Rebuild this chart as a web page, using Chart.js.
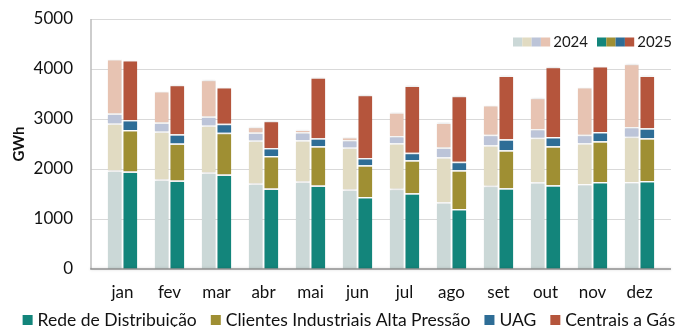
<!DOCTYPE html>
<html>
<head>
<meta charset="utf-8">
<script src="https://cdn.jsdelivr.net/npm/chart.js@4/dist/chart.umd.min.js"></script>
<style>
  html, body { margin: 0; padding: 0; background: #fff; }
  #wrap { width: 675px; height: 327px; }
</style>
</head>
<body>
<div id="wrap"><canvas id="myChart"></canvas></div>
<script>
const months = ['jan', 'fev', 'mar', 'abr', 'mai', 'jun', 'jul', 'ago', 'set', 'out', 'nov', 'dez']
const yTicks = [0, 1000, 2000, 3000, 4000, 5000]

// 2024
const rede2024 = [1970, 1790, 1930, 1710, 1750, 1590, 1605, 1335, 1665, 1735, 1700, 1740]
const industria2024 = [940, 960, 940, 860, 825, 840, 910, 900, 810, 890, 815, 905]
const uag2024 = [200, 180, 180, 160, 160, 150, 145, 195, 210, 175, 170, 195]
const centrais2024 = [1090, 630, 735, 115, 50, 60, 475, 500, 595, 625, 955, 1265]

// 2025
const rede2025 = [1950, 1770, 1890, 1610, 1670, 1440, 1515, 1200, 1615, 1675, 1740, 1760]
const industria2025 = [830, 740, 835, 650, 785, 635, 660, 775, 760, 780, 815, 855]
const uag2025 = [200, 185, 180, 160, 160, 145, 150, 170, 220, 185, 185, 200]
const centrais2025 = [1200, 990, 735, 545, 1220, 1265, 1345, 1320, 1275, 1405, 1320, 1055]

const names = ['Rede de Distribuição', 'Clientes Industriais Alta Pressão', 'UAG', 'Centrais a Gás']
const dark = ['#13857b', '#9f8f33', '#2e6d96', '#b5553c']
const light = ['#cbd8d7', '#e1dbc2', '#bcc4d8', '#e7c3b2']

const FONT = 'Lato, "Open Sans", sans-serif'

// the frame is a bit wider than the band the months occupy
const frameLeft = 91
const frameRight = 671

const mk = (label, data, color, stack) => ({
  label: label,
  data: data,
  backgroundColor: color,
  borderColor: '#ffffff',
  borderWidth: { top: 1.5, left: 0, right: 0, bottom: 0 },
  borderSkipped: false,
  stack: stack,
  categoryPercentage: 0.664,
  barPercentage: 0.897
})

const datasets = [
  mk(names[0], rede2024, light[0], 'a2024'),
  mk(names[1], industria2024, light[1], 'a2024'),
  mk(names[2], uag2024, light[2], 'a2024'),
  mk(names[3], centrais2024, light[3], 'a2024'),
  mk(names[0], rede2025, dark[0], 'a2025'),
  mk(names[1], industria2025, dark[1], 'a2025'),
  mk(names[2], uag2025, dark[2], 'a2025'),
  mk(names[3], centrais2025, dark[3], 'a2025')
]

// grid lines and axis lines across the full frame
const frame = {
  id: 'frame',
  beforeDatasetsDraw(chart) {
    const c = chart.ctx, y = chart.scales.y, a = chart.chartArea
    c.save()
    c.lineWidth = 1
    c.strokeStyle = '#d9d9d9'
    yTicks.slice(1).forEach(v => {
      const py = Math.round(y.getPixelForValue(v)) + 0.5
      c.beginPath(); c.moveTo(frameLeft, py); c.lineTo(frameRight, py); c.stroke()
    })
    c.strokeStyle = '#bdbdbd'
    c.lineWidth = 1.5
    c.beginPath(); c.moveTo(frameLeft, a.top); c.lineTo(frameLeft, a.bottom); c.stroke()
    c.restore()
  },
  afterDatasetsDraw(chart) {
    const c = chart.ctx, a = chart.chartArea
    c.save()
    c.strokeStyle = '#8f8f8f'
    c.lineWidth = 1.5
    c.beginPath(); c.moveTo(frameLeft - 0.75, a.bottom); c.lineTo(frameRight, a.bottom); c.stroke()
    c.restore()
  }
}

// small year key in the top right corner
const yearKey = {
  id: 'yearKey',
  afterDraw(chart) {
    const c = chart.ctx
    const drawKey = (x, cols, text) => {
      cols.forEach((col, i) => {
        c.fillStyle = col
        c.fillRect(x + i * 9.3, 37.5, 9.3, 9)
      })
      c.fillStyle = '#1a1a1a'
      c.font = '15px ' + FONT
      c.textBaseline = 'middle'
      c.textAlign = 'left'
      c.fillText(text, x + 4 * 9.3 + 3, 42.5)
    }
    c.save()
    drawKey(513, light, '2024')
    drawKey(597, dark, '2025')
    c.restore()
  }
}

// category legend along the bottom, one entry per series (2025 colours)
const bottomKey = {
  id: 'bottomKey',
  afterDraw(chart) {
    const c = chart.ctx
    c.save()
    c.font = '17.5px ' + FONT
    c.textBaseline = 'alphabetic'
    c.textAlign = 'left'
    const box = 10, gapIn = 5, gapOut = 14
    const widths = names.map(n => box + gapIn + c.measureText(n).width)
    const total = widths.reduce((a, b) => a + b) + gapOut * (names.length - 1)
    let x = 349 - total / 2
    names.forEach((n, i) => {
      c.fillStyle = dark[i]
      c.fillRect(x, 315, box, box)
      c.fillStyle = '#111'
      c.fillText(n, x + box + gapIn, 325.5)
      x += widths[i] + gapOut
    })
    c.restore()
  }
}

// soft shadow under the bars
const barShadow = {
  id: 'barShadow',
  beforeDatasetsDraw(chart) {
    chart.ctx.save()
    chart.ctx.shadowColor = 'rgba(0,0,0,0.18)'
    chart.ctx.shadowBlur = 3
  },
  afterDatasetsDraw(chart) {
    chart.ctx.restore()
  }
}

new Chart(document.getElementById('myChart'), {
  type: 'bar',
  data: { labels: months, datasets: datasets },
  options: {
    responsive: true,
    maintainAspectRatio: false,
    animation: false,
    layout: { padding: { top: 19, right: 12, left: 4, bottom: 0 } },
    scales: {
      x: {
        stacked: true,
        afterFit: (s) => { s.height = 58 },
        grid: { display: false, drawTicks: false },
        border: { display: false },
        ticks: { color: '#111', font: { family: FONT, size: 17 }, padding: 13 }
      },
      y: {
        stacked: true,
        min: 0,
        max: 5000,
        afterBuildTicks: (s) => { s.ticks = yTicks.map(v => ({ value: v })) },
        afterFit: (s) => { s.width = 95; s.paddingTop = 0; s.paddingBottom = 0 },
        grid: { display: false, drawTicks: false },
        border: { display: false },
        ticks: {
          color: '#111',
          font: { family: FONT, size: 17 },
          padding: 26,
          callback: (v) => String(v)
        },
        title: {
          display: true,
          text: 'GWh',
          color: '#111',
          font: { family: FONT, size: 15, weight: 'bold' },
          padding: { top: 6, bottom: 0 }
        }
      }
    },
    plugins: {
      tooltip: { enabled: false },
      legend: { display: false }
    }
  },
  plugins: [frame, yearKey, bottomKey, barShadow]
})
</script>
</body>
</html>
